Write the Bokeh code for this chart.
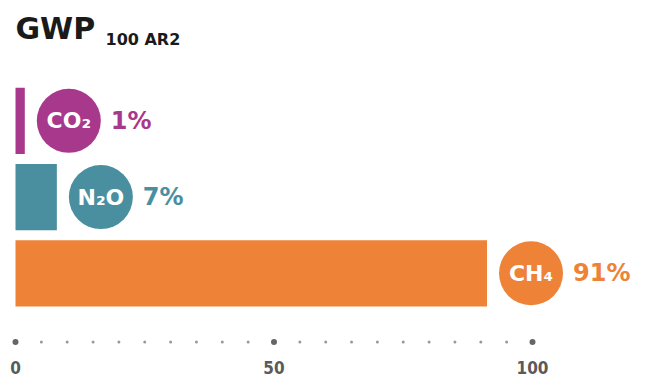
from bokeh.plotting import figure
from bokeh.models import Range1d, FixedTicker, Label, ColumnDataSource
from bokeh.core.properties import value
from bokeh.transform import dodge
from bokeh.embed import file_html
from bokeh.resources import INLINE

# ---- data ----
gases = ["CO₂", "N₂O", "CH₄"]
shares = [1.8, 8.0, 91.2]          # bar lengths
share_labels = ["1%", "7%", "91%"]
colors = ["#A8388C", "#4A8FA0", "#EE8237"]
axis_ticks = [0, 50, 100]
dot_ticks = list(range(0, 101, 5))
title_main = "GWP"
title_sub = "100 AR2"

rows = list(range(len(gases)))
PX = 5.17  # px per unit on x

src = ColumnDataSource(dict(row=rows, share=shares, gas=gases,
                            label=share_labels, color=colors))

p = figure(width=646, height=376, output_backend="svg", toolbar_location=None,
           x_range=Range1d(-15 / PX, (646 - 15) / PX),
           y_range=Range1d(3.0, -1.579),
           y_axis_location=None, min_border=0,
           min_border_left=0, min_border_right=0, min_border_top=0, min_border_bottom=0,
           outline_line_color=None, background_fill_color="white",
           border_fill_color="white")
p.grid.visible = False

ax = p.xaxis[0]
ax.ticker = FixedTicker(ticks=axis_ticks)
ax.axis_line_color = None
ax.major_tick_line_color = None
ax.minor_tick_line_color = None
ax.major_label_standoff = 5
ax.major_label_text_font = "DejaVu Sans Condensed, Roboto Condensed, Roboto"
ax.major_label_text_font_style = "bold"
ax.major_label_text_font_size = "17px"
ax.major_label_text_color = "#5a5a5a"

# bars
p.hbar(y="row", left=0, right="share", height=0.87, fill_color="color",
       line_color=None, source=src)

# circles with gas names
p.scatter(x=dodge("share", 44 / PX), y="row", size=64, marker="circle",
          fill_color="color", line_color=None, source=src)
p.text(x="share", y="row", text="gas", x_offset=44, text_align="center",
       text_baseline="middle", text_font=value("DejaVu Sans"),
       text_font_style="bold", text_font_size="22px", text_color="white",
       source=src)

# percentage labels
p.text(x="share", y="row", text="label", x_offset=86, text_align="left",
       text_baseline="middle", text_font=value("DejaVu Sans"),
       text_font_style="bold", text_font_size="24px", text_color="color",
       source=src)

# axis dots
dot_sizes = [6 if t % 50 == 0 else 3 for t in dot_ticks]
dot_cols = ["#666666" if t % 50 == 0 else "#999999" for t in dot_ticks]
p.scatter(x=dot_ticks, y=[2.9] * len(dot_ticks), size=dot_sizes,
          marker="circle", fill_color=dot_cols, line_color=None)

# title
p.add_layout(Label(x=0, y=-1.21, text=title_main, text_font="DejaVu Sans",
                   text_font_style="bold", text_font_size="30px",
                   text_color="#1a1a1a", text_baseline="alphabetic"))
p.add_layout(Label(x=0, y=-1.07, x_offset=90, text=title_sub,
                   text_font="DejaVu Sans", text_font_style="bold",
                   text_font_size="16px", text_color="#1a1a1a",
                   text_baseline="alphabetic"))

open("out.html", "w").write(file_html(p, INLINE))
